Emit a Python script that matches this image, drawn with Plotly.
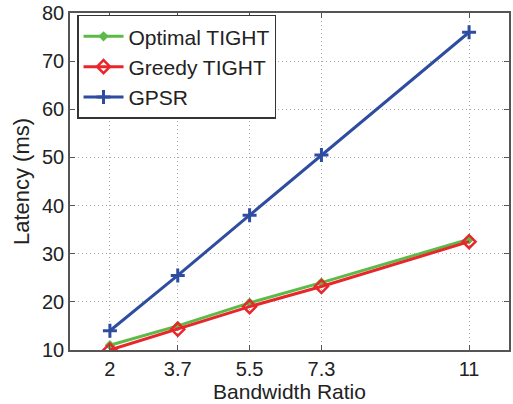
import plotly.graph_objects as go

x_vals = [2, 3.7, 5.5, 7.3, 11]
x_ticks = ["2", "3.7", "5.5", "7.3", "11"]
optimal = [11, 15, 19.8, 24, 33]
greedy = [10, 14.3, 19, 23.2, 32.5]
gpsr = [14, 25.5, 38, 50.5, 76]

fig = go.Figure()
fig.add_trace(go.Scatter(x=x_vals, y=optimal, name="Optimal TIGHT", mode="lines+markers",
                         line=dict(color="#5cbb47", width=3),
                         marker=dict(symbol="diamond", size=8, color="#5cbb47")))
fig.add_trace(go.Scatter(x=x_vals, y=greedy, name="Greedy TIGHT", mode="lines+markers",
                         line=dict(color="#e8262b", width=3),
                         marker=dict(symbol="diamond-open", size=10, color="#e8262b", line=dict(width=2.5))))
fig.add_trace(go.Scatter(x=x_vals, y=gpsr, name="GPSR", mode="lines+markers",
                         line=dict(color="#2f4da0", width=3),
                         marker=dict(symbol="cross-thin-open", size=10, color="#2f4da0", line=dict(width=3, color="#2f4da0"))))

axis_common = dict(showline=True, linecolor="#555", linewidth=1.5, mirror="ticks",
                   ticks="inside", ticklen=5, tickcolor="#555",
                   showgrid=True, gridcolor="#aaa", griddash="1px,3px", gridwidth=1,
                   zeroline=False, tickfont=dict(size=20, color="#222"), automargin=False)

fig.update_layout(
    width=513, height=404,
    margin=dict(l=70, r=4, t=13, b=54),
    paper_bgcolor="white", plot_bgcolor="white",
    font=dict(family="Liberation Sans, Arial, sans-serif", color="#222"),
    xaxis=dict(range=[1, 12], tickvals=x_vals, ticktext=x_ticks,
               title=dict(text="Bandwidth Ratio", font=dict(size=21), standoff=0), **axis_common),
    yaxis=dict(range=[10, 80], dtick=10,
               title=dict(text="Latency (ms)", font=dict(size=22), standoff=6), **axis_common),
    legend=dict(x=0.016, y=0.995, xanchor="left", yanchor="top",
                bordercolor="#333", borderwidth=1.5, bgcolor="white",
                font=dict(size=21, color="#222"), tracegroupgap=0, itemwidth=40),
    showlegend=True,
)

fig.write_html("out.html", config={"displayModeBar": False},
               post_script="document.body.style.margin='0';document.body.style.overflow='hidden';")
